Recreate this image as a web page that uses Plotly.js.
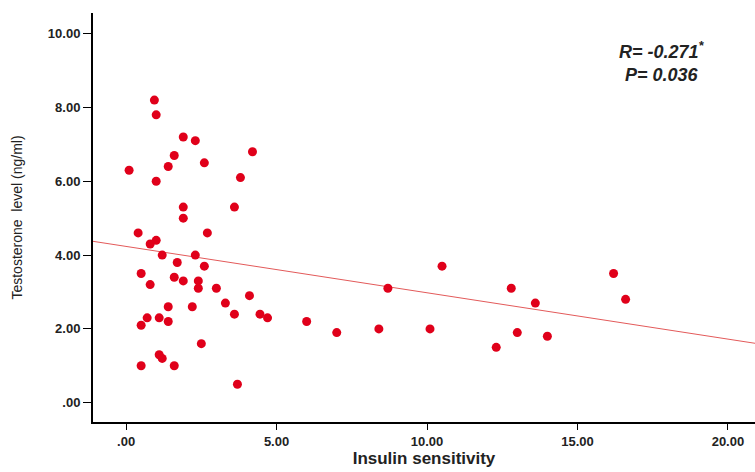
<!DOCTYPE html>
<html>
<head>
<meta charset="utf-8">
<script src="https://cdn.plot.ly/plotly-3.0.1.min.js"></script>
<style>
  html, body { margin: 0; padding: 0; background: #ffffff; }
  #chart { width: 755px; height: 472px; }
</style>
</head>
<body>
<div id="chart"></div>
<script>
// Insulin sensitivity (x) vs Testosterone level ng/ml (y)
const insulinSensitivity = [
  0.94, 1.0, 1.9, 2.3, 4.2, 1.6, 1.4, 2.6, 0.1, 3.8,
  1.0, 1.9, 3.6, 1.9, 0.4, 2.7, 1.0, 0.8, 1.2, 2.3,
  1.7, 2.6, 0.5, 1.6, 1.9, 2.4, 2.4, 0.8, 3.0, 4.1,
  3.3, 1.4, 2.2, 3.6, 4.45, 4.7, 0.7, 1.1, 1.4, 0.5,
  2.5, 1.1, 1.2, 0.5, 1.6, 3.7, 6.0, 7.0, 8.4, 8.7,
  10.5, 10.1, 12.3, 12.8, 13.6, 13.0, 14.0, 16.2, 16.6
];
const testosterone = [
  8.2, 7.8, 7.2, 7.1, 6.8, 6.7, 6.4, 6.5, 6.3, 6.1,
  6.0, 5.3, 5.3, 5.0, 4.6, 4.6, 4.4, 4.3, 4.0, 4.0,
  3.8, 3.7, 3.5, 3.4, 3.3, 3.3, 3.1, 3.2, 3.1, 2.9,
  2.7, 2.6, 2.6, 2.4, 2.4, 2.3, 2.3, 2.3, 2.2, 2.1,
  1.6, 1.3, 1.2, 1.0, 1.0, 0.5, 2.2, 1.9, 2.0, 3.1,
  3.7, 2.0, 1.5, 3.1, 2.7, 1.9, 1.8, 3.5, 2.8
];

// Fit line: y = intercept + slope * x
const fitIntercept = 4.235;
const fitSlope = -0.1256;
const fitX = [-1.10, 20.9];
const fitY = fitX.map(x => fitIntercept + fitSlope * x);

const yTickVals = [0, 2, 4, 6, 8, 10];
const yTickText = ['.00', '2.00', '4.00', '6.00', '8.00', '10.00'];
const xTickVals = [0, 5, 10, 15, 20];
const xTickText = ['.00', '5.00', '10.00', '15.00', '20.00'];

const FONT = 'Liberation Sans, Arial, sans-serif';

const traces = [
  {
    type: 'scatter', mode: 'lines',
    x: fitX, y: fitY,
    line: { color: '#e35a5a', width: 1 },
    hoverinfo: 'skip', showlegend: false
  },
  {
    type: 'scatter', mode: 'markers',
    x: insulinSensitivity, y: testosterone,
    marker: { color: '#e0001a', size: 9, line: { width: 0 } },
    showlegend: false
  }
];

const layout = {
  width: 755, height: 472,
  margin: { l: 93, r: 0, t: 13, b: 50 },
  paper_bgcolor: '#ffffff', plot_bgcolor: '#ffffff',
  showlegend: false,
  font: { family: FONT, color: '#222222' },
  xaxis: {
    range: [-1.10, 20.9],
    tickvals: xTickVals, ticktext: xTickText,
    tickfont: { family: FONT, size: 13, color: '#222222', weight: 'bold' },
    ticks: 'outside', ticklen: 6, tickwidth: 1, tickcolor: '#000000',
    showline: true, linecolor: '#000000', linewidth: 2,
    showgrid: false, zeroline: false,
    title: { text: '<b>Insulin sensitivity</b>', font: { family: FONT, size: 17, color: '#222222' }, standoff: 5 },
    automargin: false
  },
  yaxis: {
    range: [-0.523, 10.56],
    tickvals: yTickVals, ticktext: yTickText,
    tickfont: { family: FONT, size: 13, color: '#222222', weight: 'bold' },
    ticks: 'outside', ticklen: 8, tickwidth: 1, tickcolor: '#000000',
    showline: true, linecolor: '#000000', linewidth: 2,
    showgrid: false, zeroline: false,
    title: { text: 'Testosterone  level (ng/ml)', font: { family: FONT, size: 14, color: '#222222' }, standoff: 22 },
    automargin: false
  },
  annotations: [
    {
      xref: 'paper', yref: 'paper', x: 0.86, y: 0.879,
      xanchor: 'center', yanchor: 'middle', showarrow: false,
      text: '<b><i>R= -0.271<sup>*</sup></i></b><br><b><i>P= 0.036</i></b>',
      font: { family: FONT, size: 18, color: '#222222' }
    }
  ]
};

Plotly.newPlot('chart', traces, layout, { displayModeBar: false, staticPlot: true });
</script>
</body>
</html>
